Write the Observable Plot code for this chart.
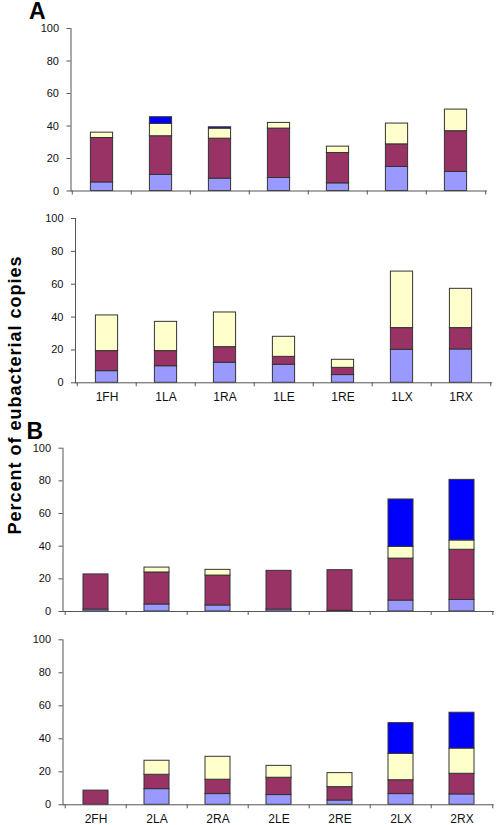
<!DOCTYPE html>
<html>
<head>
<meta charset="utf-8">
<script src="https://cdn.jsdelivr.net/npm/d3@7"></script>
<script src="https://cdn.jsdelivr.net/npm/@observablehq/plot@0.6"></script>
<style>
  html, body { margin: 0; padding: 0; background: #fff; }
  #root { position: relative; width: 496px; height: 825px; overflow: hidden; font-family: "Liberation Sans", Arial, sans-serif; }
  .panel { position: absolute; left: 0; }
  .letter { position: absolute; font-weight: bold; font-size: 23px; line-height: 0.8; color: #000; }
  .ytitle { position: absolute; font-weight: bold; font-size: 18px; line-height: 1; letter-spacing: 1px; white-space: nowrap; color: #000;
            transform: translate(-50%, -50%) rotate(-90deg); }
</style>
</head>
<body>
<div id="root">
  <div class="letter" style="left:29px; top:1.6px;">A</div>
  <div class="letter" style="left:26.5px; top:422.4px;">B</div>
  <div class="ytitle" style="left:14.7px; top:394.5px;">Percent of eubacterial copies</div>
</div>
<script>
// Categories
const catsA = ["1FH", "1LA", "1RA", "1LE", "1RE", "1LX", "1RX"];
const catsB = ["2FH", "2LA", "2RA", "2LE", "2RE", "2LX", "2RX"];
const yTicks = [0, 20, 40, 60, 80, 100];

// Series (stack order bottom to top)
const seriesNames = ["Series 1", "Series 2", "Series 3", "Series 4"];
const seriesColors = ["#9999FF", "#993366", "#FFFFCC", "#0000FF"];

// Panel A, upper chart (segment sizes, %)
const a1s1 = [5.3, 9.9, 7.6, 8.0, 4.7, 14.8, 11.7];
const a1s2 = [27.3, 23.8, 24.6, 30.4, 18.7, 13.9, 25.1];
const a1s3 = [3.3, 7.6, 6.2, 3.5, 3.9, 12.8, 13.3];
const a1s4 = [0, 4.1, 0.8, 0, 0, 0, 0];

// Panel A, lower chart
const a2s1 = [7.1, 10.1, 12.2, 11.0, 4.7, 20.1, 20.3];
const a2s2 = [12.2, 9.2, 9.5, 4.8, 4.4, 13.2, 13.0];
const a2s3 = [21.7, 17.8, 21.1, 12.2, 4.9, 34.4, 23.9];
const a2s4 = [0, 0, 0, 0, 0, 0, 0];

// Panel B, upper chart
const b1s1 = [1.2, 4.3, 3.7, 1.2, 0.4, 6.7, 7.1];
const b1s2 = [21.5, 19.6, 18.3, 23.7, 24.9, 25.7, 30.7];
const b1s3 = [0, 3.0, 3.5, 0, 0, 7.2, 5.7];
const b1s4 = [0, 0, 0, 0, 0, 29.0, 37.1];

// Panel B, lower chart
const b2s1 = [0, 9.5, 6.5, 5.9, 2.6, 6.5, 6.3];
const b2s2 = [8.6, 8.7, 8.7, 10.5, 8.1, 8.4, 12.5];
const b2s3 = [0, 8.5, 13.9, 7.2, 8.5, 16.0, 15.3];
const b2s4 = [0, 0, 0, 0, 0, 18.6, 21.7];

function panel(cats, series, cfg) {
  const data = [];
  series.forEach((vals, s) => vals.forEach((v, i) => {
    if (v > 0) data.push({cat: cats[i], series: seriesNames[s], value: v});
  }));
  const W = 496;
  const step = (W - cfg.ml - cfg.mr) / cats.length;
  const inset = cfg.inset;
  const axisColor = "#555";
  const chart = Plot.plot({
    width: W,
    height: cfg.h,
    marginTop: cfg.mt,
    marginBottom: cfg.mb,
    marginLeft: cfg.ml,
    marginRight: cfg.mr,
    style: {fontFamily: "'Liberation Sans', Arial, sans-serif", fontSize: "11px", color: "#111", background: "transparent", overflow: "visible"},
    x: {domain: cats, padding: 0, axis: null},
    y: {domain: [0, 100], axis: null},
    color: {domain: seriesNames, range: seriesColors},
    marks: [
      Plot.barY(data, {x: "cat", y: "value", fill: "series", stroke: "#333", strokeWidth: 1, insetLeft: inset, insetRight: inset}),
      Plot.frame({anchor: "left", stroke: axisColor}),
      Plot.ruleY([0], {stroke: axisColor}),
      Plot.ruleX(cats, {x: d => d, dx: -step / 2, y1: 0, y2: 0, insetBottom: -4, stroke: axisColor}),
      Plot.ruleX(cats.slice(-1), {x: d => d, dx: step / 2, y1: 0, y2: 0, insetBottom: -4, stroke: axisColor}),
      Plot.axisY({ticks: yTicks, tickSize: 4, tickPadding: 8, stroke: axisColor, fill: "#111", fontSize: 11, label: null}),
      cfg.labels ? Plot.axisX({tickSize: 0, tickPadding: 10, fontSize: 12, fill: "#111", label: null}) : null
    ]
  });
  chart.classList.add("panel");
  chart.style.top = cfg.top + "px";
  chart.style.position = "absolute";
  chart.style.left = "0px";
  document.getElementById("root").appendChild(chart);
}

panel(catsA, [a1s1, a1s2, a1s3, a1s4], {top: 20, h: 190, mt: 8, mb: 19.5, ml: 70.5, mr: 9.3, inset: 18.4, labels: false});
panel(catsA, [a2s1, a2s2, a2s3, a2s4], {top: 210, h: 200, mt: 8, mb: 27.7, ml: 75, mr: 4, inset: 18.4, labels: true});
panel(catsB, [b1s1, b1s2, b1s3, b1s4], {top: 430, h: 190, mt: 17.7, mb: 9, ml: 62.5, mr: 2, inset: 18, labels: false});
panel(catsB, [b2s1, b2s2, b2s3, b2s4], {top: 625, h: 200, mt: 14.3, mb: 20.7, ml: 62.5, mr: 2.5, inset: 18, labels: true});
</script>
</body>
</html>
